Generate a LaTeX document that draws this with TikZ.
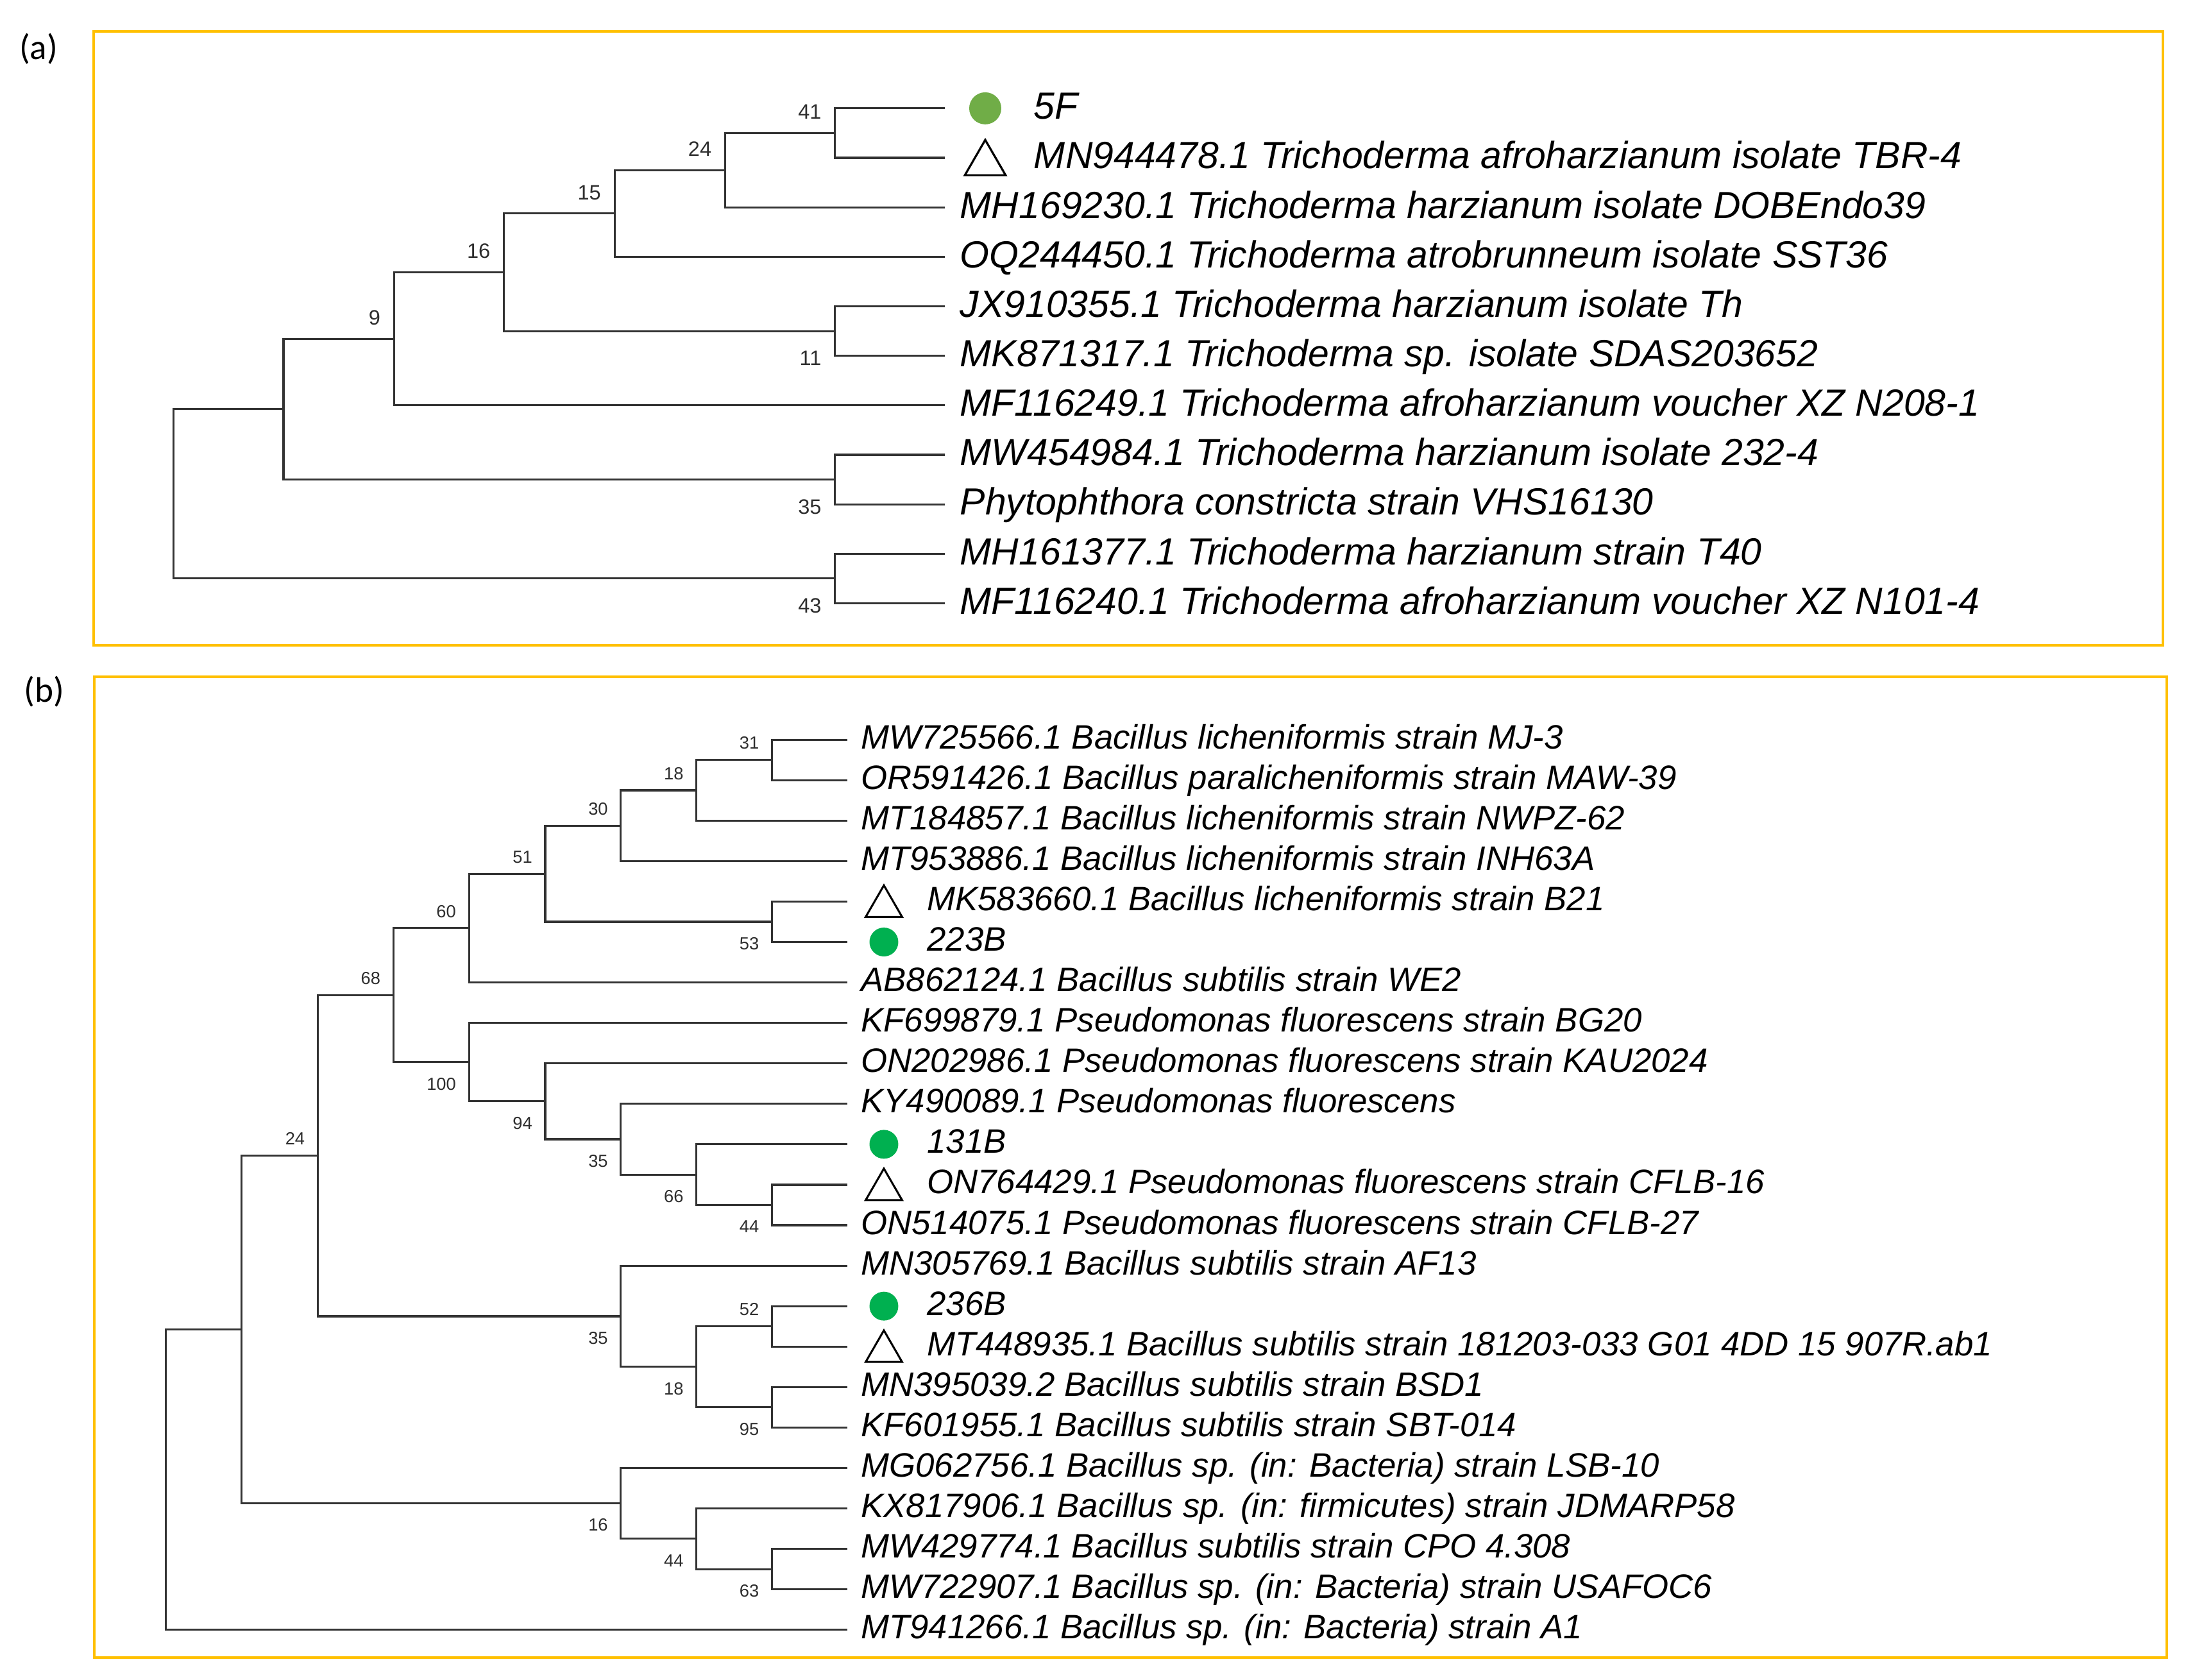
\documentclass[tikz,border=0pt]{standalone}
\usepackage{fontspec}
\setmainfont{Liberation Sans}
\newfontfamily\tagfont{Carlito}
\usepackage{tikz}
\usetikzlibrary{shapes.geometric}
\usepackage{xcolor}
\definecolor{framegold}{HTML}{FFC000}
\definecolor{isoA}{HTML}{70AD47}
\definecolor{isoB}{HTML}{00B050}

\begin{document}
\begin{tikzpicture}[x=0.025cm, y=-0.025cm,
    frame/.style={draw=framegold, line width=0.045cm},
    branch/.style={draw=black!80, line width=0.036cm},
    tag/.style={font=\tagfont\fontsize{18}{20}\selectfont},
    leafa/.style={anchor=base west, inner sep=0pt, xshift=0.27cm, yshift=-0.1925cm, font=\fontsize{19.2}{22}\selectfont\itshape},
    marka/.style={leafa, xshift=1.3175cm},
    leafb/.style={anchor=base west, inner sep=0pt, xshift=0.24cm, yshift=-0.16cm, font=\fontsize{17.2}{20}\selectfont\itshape},
    markb/.style={leafb, xshift=1.18cm},
    dota/.style={circle, fill=isoA, inner sep=0pt, minimum size=0.5725cm, xshift=0.725cm},
    dotb/.style={circle, fill=isoB, inner sep=0pt, minimum size=0.515cm, xshift=0.655cm},
    tria/.style={draw, regular polygon, regular polygon sides=3, inner sep=0pt, minimum size=0.84cm, line width=0.037cm, xshift=0.725cm, yshift=-0.1cm},
    trib/.style={draw, regular polygon, regular polygon sides=3, inner sep=0pt, minimum size=0.75cm, line width=0.035cm, xshift=0.655cm, yshift=-0.086cm},
    bsa/.style={anchor=east, inner sep=0pt, text=black!82, font=\fontsize{10.6}{12}\selectfont, xshift=-0.2375cm},
    upa/.style={bsa, yshift=0.375cm},
    dna/.style={bsa, yshift=-0.4875cm},
    bsb/.style={anchor=east, inner sep=0pt, text=black!82, font=\fontsize{8.9}{10}\selectfont, xshift=-0.225cm},
    upb/.style={bsb, yshift=0.3cm},
    dnb/.style={bsb, yshift=-0.3875cm}]
\useasboundingbox (0,0) rectangle (1568,1200);

% panel frames
\draw[frame] (67,22.6) rectangle (1545,461);
\draw[frame] (67.5,483.4) rectangle (1548,1184);
\node[tag] (taga) at (27.5,35) {(a)};
\node[tag] (tagb) at (31.5,494) {(b)};

% (a) leaf ends
\coordinate (la1) at (674.8,77.4);
\coordinate (la2) at (674.8,112.75);
\coordinate (la3) at (674.8,148.1);
\coordinate (la4) at (674.8,183.45);
\coordinate (la5) at (674.8,218.8);
\coordinate (la6) at (674.8,254.15);
\coordinate (la7) at (674.8,289.5);
\coordinate (la8) at (674.8,324.85);
\coordinate (la9) at (674.8,360.2);
\coordinate (la10) at (674.8,395.55);
\coordinate (la11) at (674.8,430.9);

% (a) inner nodes
\coordinate (na41) at (596.5,95.08);
\coordinate (na24) at (518,121.59);
\coordinate (na15) at (439,152.52);
\coordinate (na11) at (596.5,236.48);
\coordinate (na16) at (360,194.5);
\coordinate (na9) at (281.5,242);
\coordinate (na35) at (596.5,342.53);
\coordinate (naX) at (202.5,292.26);
\coordinate (na43) at (596.5,413.23);
\coordinate (naroot) at (124,352.74);

\draw[branch] (la1) -| (na41) |- (la2);
\draw[branch] (na41) -| (na24) |- (la3);
\draw[branch] (na24) -| (na15) |- (la4);
\draw[branch] (la5) -| (na11) |- (la6);
\draw[branch] (na15) -| (na16) |- (na11);
\draw[branch] (na16) -| (na9) |- (la7);
\draw[branch] (la8) -| (na35) |- (la9);
\draw[branch] (na9) -| (naX) |- (na35);
\draw[branch] (la10) -| (na43) |- (la11);
\draw[branch] (naX) -| (naroot) |- (na43);

\node[upa] (ba41) at (na41) {41};
\node[upa] (ba24) at (na24) {24};
\node[upa] (ba15) at (na15) {15};
\node[upa] (ba16) at (na16) {16};
\node[upa] (ba9) at (na9) {9};
\node[dna] (ba11) at (na11) {11};
\node[dna] (ba35) at (na35) {35};
\node[dna] (ba43) at (na43) {43};

\node[dota] (sa1) at (la1) {};
\node[tria] (sa2) at (la2) {};
\node[marka] (ta1) at (la1) {5F};
\node[marka] (ta2) at (la2) {MN944478.1 Trichoderma afroharzianum isolate TBR-4};
\node[leafa] (ta3) at (la3) {MH169230.1 Trichoderma harzianum isolate DOBEndo39};
\node[leafa] (ta4) at (la4) {OQ244450.1 Trichoderma atrobrunneum isolate SST36};
\node[leafa] (ta5) at (la5) {JX910355.1 Trichoderma harzianum isolate Th};
\node[leafa] (ta6) at (la6) {MK871317.1 Trichoderma sp. isolate SDAS203652};
\node[leafa] (ta7) at (la7) {MF116249.1 Trichoderma afroharzianum voucher XZ N208-1};
\node[leafa] (ta8) at (la8) {MW454984.1 Trichoderma harzianum isolate 232-4};
\node[leafa] (ta9) at (la9) {Phytophthora constricta strain VHS16130};
\node[leafa] (ta10) at (la10) {MH161377.1 Trichoderma harzianum strain T40};
\node[leafa] (ta11) at (la11) {MF116240.1 Trichoderma afroharzianum voucher XZ N101-4};

% (b) leaf ends
\coordinate (lb1) at (605.2,528.4);
\coordinate (lb2) at (605.2,557.3);
\coordinate (lb3) at (605.2,586.2);
\coordinate (lb4) at (605.2,615.1);
\coordinate (lb5) at (605.2,644);
\coordinate (lb6) at (605.2,672.9);
\coordinate (lb7) at (605.2,701.8);
\coordinate (lb8) at (605.2,730.7);
\coordinate (lb9) at (605.2,759.6);
\coordinate (lb10) at (605.2,788.5);
\coordinate (lb11) at (605.2,817.4);
\coordinate (lb12) at (605.2,846.3);
\coordinate (lb13) at (605.2,875.2);
\coordinate (lb14) at (605.2,904.1);
\coordinate (lb15) at (605.2,933);
\coordinate (lb16) at (605.2,961.9);
\coordinate (lb17) at (605.2,990.8);
\coordinate (lb18) at (605.2,1019.7);
\coordinate (lb19) at (605.2,1048.6);
\coordinate (lb20) at (605.2,1077.5);
\coordinate (lb21) at (605.2,1106.4);
\coordinate (lb22) at (605.2,1135.3);
\coordinate (lb23) at (605.2,1164.2);

% (b) inner nodes
\coordinate (nb31) at (551.5,542.85);
\coordinate (nb18a) at (497.5,564.53);
\coordinate (nb30) at (443.5,589.81);
\coordinate (nb53) at (551.5,658.45);
\coordinate (nb51) at (389.5,624.13);
\coordinate (nb60) at (335,662.97);
\coordinate (nb44a) at (551.5,860.75);
\coordinate (nb66) at (497.5,839.08);
\coordinate (nb35a) at (443.5,813.79);
\coordinate (nb94) at (389.5,786.69);
\coordinate (nb100) at (335,758.7);
\coordinate (nb68) at (281,710.83);
\coordinate (nb52) at (551.5,947.45);
\coordinate (nb95) at (551.5,1005.25);
\coordinate (nb18b) at (497.5,976.35);
\coordinate (nb35b) at (443.5,940.23);
\coordinate (nb24) at (227,825.53);
\coordinate (nb63) at (551.5,1120.85);
\coordinate (nb44b) at (497.5,1099.18);
\coordinate (nb16) at (443.5,1073.89);
\coordinate (nbX) at (172.5,949.71);
\coordinate (nbroot) at (118.5,1056.96);

\draw[branch] (lb1) -| (nb31) |- (lb2);
\draw[branch] (nb31) -| (nb18a) |- (lb3);
\draw[branch] (nb18a) -| (nb30) |- (lb4);
\draw[branch] (lb5) -| (nb53) |- (lb6);
\draw[branch] (nb30) -| (nb51) |- (nb53);
\draw[branch] (nb51) -| (nb60) |- (lb7);
\draw[branch] (lb12) -| (nb44a) |- (lb13);
\draw[branch] (lb11) -| (nb66) |- (nb44a);
\draw[branch] (lb10) -| (nb35a) |- (nb66);
\draw[branch] (lb9) -| (nb94) |- (nb35a);
\draw[branch] (lb8) -| (nb100) |- (nb94);
\draw[branch] (nb60) -| (nb68) |- (nb100);
\draw[branch] (lb15) -| (nb52) |- (lb16);
\draw[branch] (lb17) -| (nb95) |- (lb18);
\draw[branch] (nb52) -| (nb18b) |- (nb95);
\draw[branch] (lb14) -| (nb35b) |- (nb18b);
\draw[branch] (nb68) -| (nb24) |- (nb35b);
\draw[branch] (lb21) -| (nb63) |- (lb22);
\draw[branch] (lb20) -| (nb44b) |- (nb63);
\draw[branch] (lb19) -| (nb16) |- (nb44b);
\draw[branch] (nb24) -| (nbX) |- (nb16);
\draw[branch] (nbX) -| (nbroot) |- (lb23);

\node[upb] (bb31) at (nb31) {31};
\node[upb] (bb18a) at (nb18a) {18};
\node[upb] (bb30) at (nb30) {30};
\node[upb] (bb51) at (nb51) {51};
\node[upb] (bb60) at (nb60) {60};
\node[upb] (bb68) at (nb68) {68};
\node[upb] (bb24) at (nb24) {24};
\node[upb] (bb52) at (nb52) {52};
\node[dnb] (bb53) at (nb53) {53};
\node[dnb] (bb100) at (nb100) {100};
\node[dnb] (bb94) at (nb94) {94};
\node[dnb] (bb35a) at (nb35a) {35};
\node[dnb] (bb66) at (nb66) {66};
\node[dnb] (bb44a) at (nb44a) {44};
\node[dnb] (bb18b) at (nb18b) {18};
\node[dnb] (bb35b) at (nb35b) {35};
\node[dnb] (bb95) at (nb95) {95};
\node[dnb] (bb16) at (nb16) {16};
\node[dnb] (bb44b) at (nb44b) {44};
\node[dnb] (bb63) at (nb63) {63};

\node[trib] (sb5) at (lb5) {};
\node[dotb] (sb6) at (lb6) {};
\node[dotb] (sb11) at (lb11) {};
\node[trib] (sb12) at (lb12) {};
\node[dotb] (sb15) at (lb15) {};
\node[trib] (sb16) at (lb16) {};
\node[leafb] (tb1) at (lb1) {MW725566.1 Bacillus licheniformis strain MJ-3};
\node[leafb] (tb2) at (lb2) {OR591426.1 Bacillus paralicheniformis strain MAW-39};
\node[leafb] (tb3) at (lb3) {MT184857.1 Bacillus licheniformis strain NWPZ-62};
\node[leafb] (tb4) at (lb4) {MT953886.1 Bacillus licheniformis strain INH63A};
\node[markb] (tb5) at (lb5) {MK583660.1 Bacillus licheniformis strain B21};
\node[markb] (tb6) at (lb6) {223B};
\node[leafb] (tb7) at (lb7) {AB862124.1 Bacillus subtilis strain WE2};
\node[leafb] (tb8) at (lb8) {KF699879.1 Pseudomonas fluorescens strain BG20};
\node[leafb] (tb9) at (lb9) {ON202986.1 Pseudomonas fluorescens strain KAU2024};
\node[leafb] (tb10) at (lb10) {KY490089.1 Pseudomonas fluorescens};
\node[markb] (tb11) at (lb11) {131B};
\node[markb] (tb12) at (lb12) {ON764429.1 Pseudomonas fluorescens strain CFLB-16};
\node[leafb] (tb13) at (lb13) {ON514075.1 Pseudomonas fluorescens strain CFLB-27};
\node[leafb] (tb14) at (lb14) {MN305769.1 Bacillus subtilis strain AF13};
\node[markb] (tb15) at (lb15) {236B};
\node[markb] (tb16) at (lb16) {MT448935.1 Bacillus subtilis strain 181203-033 G01 4DD 15 907R.ab1};
\node[leafb] (tb17) at (lb17) {MN395039.2 Bacillus subtilis strain BSD1};
\node[leafb] (tb18) at (lb18) {KF601955.1 Bacillus subtilis strain SBT-014};
\node[leafb] (tb19) at (lb19) {MG062756.1 Bacillus sp. (in: Bacteria) strain LSB-10};
\node[leafb] (tb20) at (lb20) {KX817906.1 Bacillus sp. (in: firmicutes) strain JDMARP58};
\node[leafb] (tb21) at (lb21) {MW429774.1 Bacillus subtilis strain CPO 4.308};
\node[leafb] (tb22) at (lb22) {MW722907.1 Bacillus sp. (in: Bacteria) strain USAFOC6};
\node[leafb] (tb23) at (lb23) {MT941266.1 Bacillus sp. (in: Bacteria) strain A1};
\end{tikzpicture}
\end{document}
